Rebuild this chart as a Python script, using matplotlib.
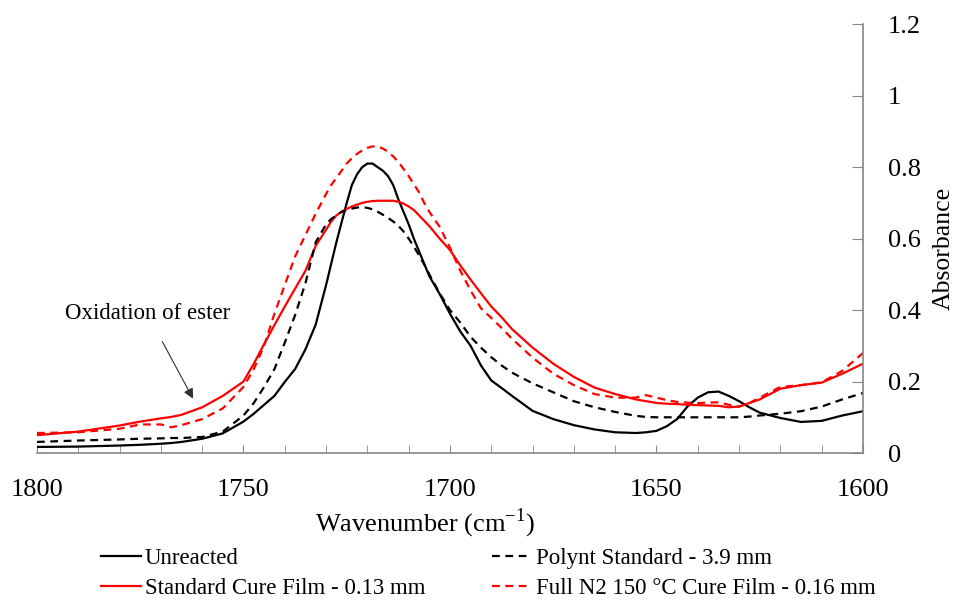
import matplotlib
matplotlib.use("Agg")
import matplotlib.pyplot as plt
import numpy as np

plt.rcParams['font.family'] = ['Liberation Serif', 'DejaVu Serif']
plt.rcParams['mathtext.fontset'] = 'custom'
plt.rcParams['mathtext.rm'] = 'Liberation Serif'

wn = [1800, 1790, 1780, 1775, 1770, 1767.5, 1765, 1760, 1755, 1750,
      1747.5, 1745, 1742.5, 1740, 1737.5, 1735, 1732.5, 1730,
      1728.75, 1727.5, 1726.25, 1725, 1723.75, 1722.5, 1721.25, 1720,
      1718.75, 1717.5, 1716.25, 1715, 1713.75, 1712.5, 1711.25, 1710,
      1708.75, 1707.5, 1706.25, 1705,
      1702.5, 1700, 1697.5, 1695, 1692.5, 1690, 1687.5, 1685,
      1680, 1675, 1670, 1665, 1660, 1655, 1652.5, 1650,
      1647.5, 1645, 1642.5, 1640, 1637.5, 1635, 1632.5, 1630,
      1627.5, 1625, 1620, 1615, 1610, 1605, 1600]

unreacted = [0.017, 0.018, 0.021, 0.023, 0.026, 0.028, 0.031, 0.040, 0.055, 0.088,
             0.11, 0.135, 0.16, 0.199, 0.235, 0.29, 0.36, 0.47,
             0.53, 0.59, 0.645, 0.70, 0.75, 0.78, 0.80, 0.81,
             0.81, 0.80, 0.79, 0.775, 0.75, 0.71, 0.675, 0.64,
             0.60, 0.565, 0.53, 0.495,
             0.445, 0.39, 0.34, 0.30, 0.245, 0.203, 0.182, 0.16,
             0.118, 0.095, 0.078, 0.066, 0.058, 0.056, 0.058, 0.062,
             0.075, 0.095, 0.13, 0.155, 0.17, 0.172, 0.16, 0.145,
             0.128, 0.113, 0.098, 0.087, 0.09, 0.105, 0.117]

polynt = [0.031, 0.035, 0.038, 0.040, 0.041, 0.042, 0.042, 0.045, 0.06, 0.105,
          0.14, 0.185, 0.235, 0.309, 0.386, 0.475, 0.59, 0.64,
          0.655, 0.665, 0.675, 0.68, 0.684, 0.687, 0.688, 0.686,
          0.682, 0.675, 0.667, 0.658, 0.648, 0.636, 0.62, 0.60,
          0.578, 0.553, 0.528, 0.50,
          0.447, 0.40, 0.365, 0.325, 0.295, 0.268, 0.245, 0.225,
          0.195, 0.17, 0.145, 0.128, 0.115, 0.104, 0.101, 0.10,
          0.10, 0.10, 0.10, 0.10, 0.10, 0.10, 0.10, 0.10,
          0.102, 0.105, 0.11, 0.117, 0.13, 0.15, 0.168]

std_cure = [0.05, 0.06, 0.077, 0.088, 0.097, 0.101, 0.107, 0.128, 0.16, 0.20,
            0.25, 0.305, 0.358, 0.41, 0.46, 0.51, 0.58, 0.625,
            0.648, 0.665, 0.675, 0.683, 0.69, 0.695, 0.70, 0.703,
            0.705, 0.706, 0.706, 0.706, 0.706, 0.703, 0.698, 0.69,
            0.68, 0.665, 0.65, 0.635,
            0.60, 0.568, 0.525, 0.485, 0.447, 0.41, 0.38, 0.347,
            0.295, 0.25, 0.213, 0.183, 0.165, 0.15, 0.145, 0.14,
            0.138, 0.137, 0.135, 0.134, 0.133, 0.132, 0.128, 0.13,
            0.14, 0.15, 0.18, 0.19, 0.197, 0.222, 0.25]

full_n2 = [0.056, 0.058, 0.068, 0.08, 0.08, 0.072, 0.078, 0.095, 0.125, 0.185,
           0.235, 0.30, 0.39, 0.47, 0.55, 0.61, 0.67, 0.725,
           0.75, 0.77, 0.79, 0.81, 0.825, 0.837, 0.847, 0.854,
           0.858, 0.858, 0.852, 0.843, 0.83, 0.815, 0.795, 0.775,
           0.752, 0.73, 0.70, 0.675,
           0.633, 0.575, 0.51, 0.455, 0.405, 0.378, 0.35, 0.32,
           0.267, 0.222, 0.19, 0.165, 0.155, 0.155, 0.162, 0.155,
           0.148, 0.143, 0.141, 0.14, 0.141, 0.142, 0.135, 0.13,
           0.14, 0.155, 0.185, 0.19, 0.198, 0.23, 0.28]

labels = ["Unreacted", "Standard Cure Film - 0.13 mm",
          "Polynt Standard - 3.9 mm", "Full N2 150 \u00b0C Cure Film - 0.16 mm"]

xticks = [1800, 1750, 1700, 1650, 1600]
yticks = [0, 0.2, 0.4, 0.6, 0.8, 1, 1.2]
ytick_labels = ["0", "0.2", "0.4", "0.6", "0.8", "1", "1.2"]

fig = plt.figure(figsize=(9.58, 6.05), dpi=100)
ax = fig.add_axes([0.0386, 0.2512, 0.8622, 0.7088])

dash = (0, (3.5, 2.5))
l1, = ax.plot(wn, unreacted, color='black', lw=1.6)
l3, = ax.plot(wn, std_cure, color='#ff0000', lw=1.6)
l2, = ax.plot(wn, polynt, color='black', lw=1.6, linestyle=dash)
l4, = ax.plot(wn, full_n2, color='#ff0000', lw=1.6, linestyle=dash)

ax.set_xlim(1800, 1600)
ax.set_ylim(0, 1.2)
ax.set_xticks(xticks)
ax.set_xticks(np.arange(1600, 1801, 10), minor=True)
ax.set_yticks(yticks)
ax.set_yticklabels(ytick_labels)

ax.yaxis.tick_right()
for s in ['top', 'left']:
    ax.spines[s].set_visible(False)
for s in ['bottom', 'right']:
    ax.spines[s].set_color('#868686')
    ax.spines[s].set_linewidth(1.2)

ax.tick_params(axis='x', which='both', direction='in', length=6, color='#868686',
               labelsize=19, pad=19)
ax.tick_params(axis='y', which='both', direction='in', length=8, color='#868686',
               labelsize=19, pad=18, right=True, left=False)

ax.set_xlabel("Wavenumber (cm$^{\\mathrm{-1}}$)", fontsize=19)
ax.xaxis.set_label_coords(0.47, -0.125)
ax.set_ylabel("Absorbance", fontsize=18.5, rotation=90, va='center', ha='center')
ax.yaxis.set_label_position('right')
ax.yaxis.set_label_coords(1.084, 0.478)

ax.annotate("Oxidation of ester", xy=(1762.2, 0.152), xytext=(1773.3, 0.39),
            fontsize=16.5, ha='center', va='center',
            arrowprops=dict(arrowstyle='-|>', color='#303030', lw=0.8,
                            mutation_scale=15, shrinkA=12, shrinkB=0))

fig.legend([l1, l3, l2, l4], labels, loc='upper left', bbox_to_anchor=(0.105, 0.095),
           ncol=2, frameon=False, fontsize=16.5, handlelength=1.75, handletextpad=0.18,
           columnspacing=2.9, labelspacing=0.42, borderaxespad=0, borderpad=0)

fig.savefig("out.png", dpi=100)
